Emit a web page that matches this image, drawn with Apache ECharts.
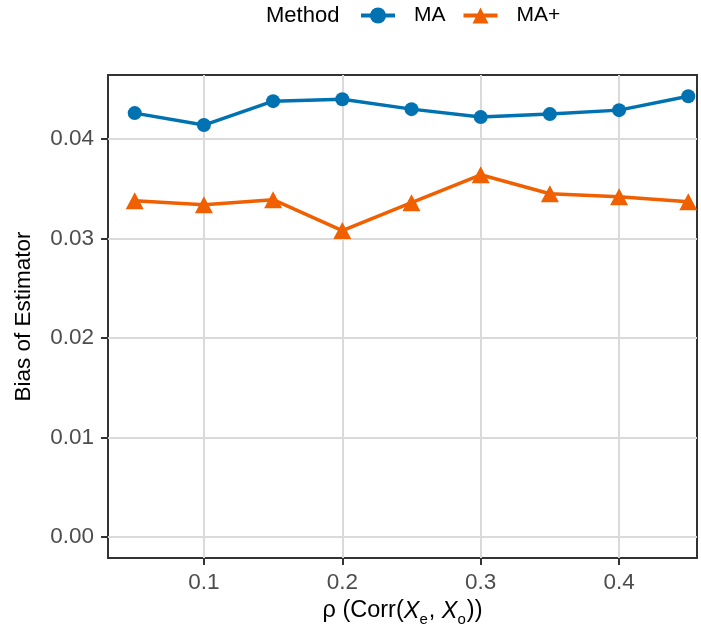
<!DOCTYPE html>
<html>
<head>
<meta charset="utf-8">
<script src="https://cdn.jsdelivr.net/npm/echarts@6/dist/echarts.min.js"></script>
<style>html,body{margin:0;padding:0;background:#fff;}#c{width:701px;height:629px;}</style>
</head>
<body>
<div id="c"></div>
<script>
const rho = [0.05, 0.10, 0.15, 0.20, 0.25, 0.30, 0.35, 0.40, 0.45];
const maValues = [0.0426, 0.0414, 0.0438, 0.0440, 0.0430, 0.0422, 0.0425, 0.0429, 0.0443];
const maPlusValues = [0.0338, 0.0334, 0.0339, 0.0308, 0.0336, 0.0364, 0.0345, 0.0342, 0.0337];
const xTicks = [0.1, 0.2, 0.3, 0.4];
const yTicks = [0, 0.01, 0.02, 0.03, 0.04];

const font = 'Liberation Sans, Arial, Helvetica, sans-serif';
const chart = echarts.init(document.getElementById('c'), null, {renderer: 'canvas'});
chart.setOption({
  animation: false,
  backgroundColor: '#ffffff',
  textStyle: {fontFamily: font},
  graphic: [{
    type: 'text', left: 266, top: 5,
    style: {text: 'Method', fontSize: 22, fill: '#000', fontFamily: font}
  }],
  legend: {
    left: 354, top: 0,
    itemWidth: 34, itemHeight: 20, itemGap: 16,
    lineStyle: {width: 4},
    textStyle: {fontSize: 21, color: '#000', fontFamily: font, padding: [0, 0, 0, 14]},
    data: ['MA', 'MA+']
  },
  grid: {left: 108, right: 4, top: 75, bottom: 71, outerBoundsMode: 'none', show: true, borderColor: '#333333', borderWidth: 2, backgroundColor: 'transparent'},
  xAxis: {
    type: 'value', min: 0.0307, max: 0.4563,
    name: '{n|ρ (Corr(}{i|X}{s|e}{n|, }{i|X}{s|o}{n|))}',
    nameLocation: 'middle', nameGap: 32,
    nameTextStyle: {
      rich: {
        n: {fontSize: 23.5, color: '#000', fontFamily: font, verticalAlign: 'bottom', lineHeight: 28},
        i: {fontSize: 23.5, color: '#000', fontFamily: font, fontStyle: 'italic', verticalAlign: 'bottom', lineHeight: 28},
        s: {fontSize: 15, color: '#000', fontFamily: font, verticalAlign: 'bottom', lineHeight: 28, padding: [0, 1, -4, 0]}
      }
    },
    axisLine: {show: false, onZero: false},
    axisTick: {show: true, length: 7, customValues: xTicks, lineStyle: {color: '#333333', width: 2}},
    axisLabel: {customValues: xTicks, fontSize: 22.5, color: '#4D4D4D', margin: 13, fontFamily: font, formatter: v => v.toFixed(1)},
    splitLine: {show: true, lineStyle: {color: '#DADADA', width: 2}}
  },
  yAxis: {
    type: 'value', min: -0.00211, max: 0.04643,
    name: 'Bias of Estimator', nameLocation: 'middle', nameGap: 73, nameRotate: 90,
    nameTextStyle: {fontSize: 22.5, color: '#000', fontFamily: font},
    axisLine: {show: false, onZero: false},
    axisTick: {show: true, length: 7, customValues: yTicks, lineStyle: {color: '#333333', width: 2}},
    axisLabel: {customValues: yTicks, fontSize: 22.5, color: '#4D4D4D', margin: 14, fontFamily: font, formatter: v => v.toFixed(2)},
    splitLine: {show: true, lineStyle: {color: '#DADADA', width: 2}}
  },
  series: [
    {
      name: 'MA', type: 'line',
      data: rho.map((x, i) => [x, maValues[i]]),
      symbol: 'circle', symbolSize: 14,
      lineStyle: {color: '#0072B2', width: 3.5},
      itemStyle: {color: '#0072B2'}
    },
    {
      name: 'MA+', type: 'line',
      data: rho.map((x, i) => [x, maPlusValues[i]]),
      symbol: 'triangle', symbolSize: [18, 17],
      lineStyle: {color: '#F06000', width: 3.5},
      itemStyle: {color: '#F06000'}
    }
  ]
});
</script>
</body>
</html>
